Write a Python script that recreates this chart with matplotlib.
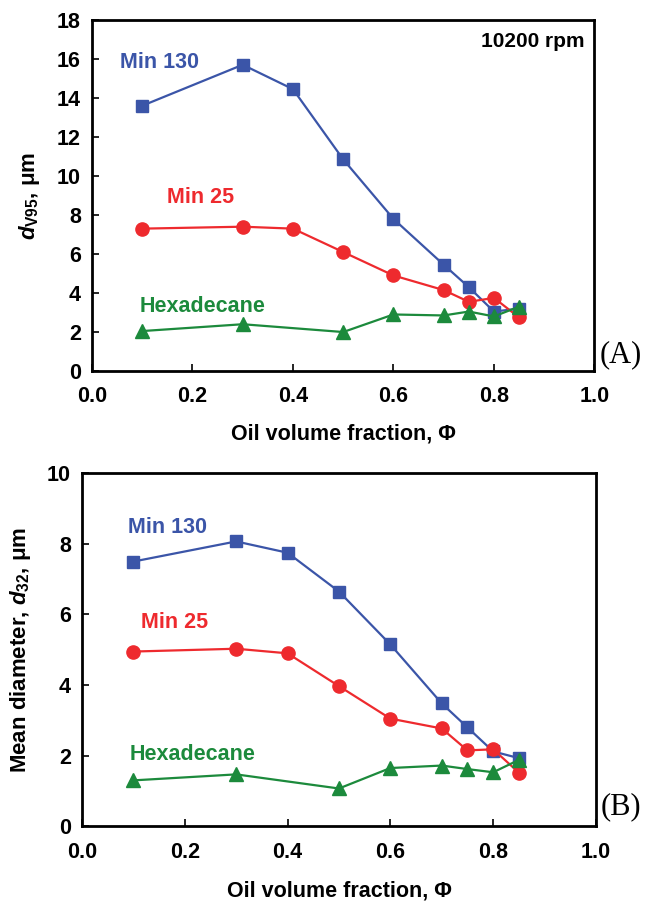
import matplotlib
matplotlib.use('Agg')
import matplotlib.pyplot as plt
import numpy as np

plt.rcParams['font.family'] = ['Liberation Sans', 'DejaVu Sans']
plt.rcParams['font.weight'] = 'bold'
plt.rcParams['axes.labelweight'] = 'bold'
plt.rcParams['mathtext.fontset'] = 'custom'
plt.rcParams['mathtext.rm'] = 'Liberation Sans:bold'
plt.rcParams['mathtext.it'] = 'Liberation Sans:bold:italic'
plt.rcParams['mathtext.bf'] = 'Liberation Sans:bold'

# data
phi = [0.1, 0.3, 0.4, 0.5, 0.6, 0.7, 0.75, 0.8, 0.85]
phi_hex = [0.1, 0.3, 0.5, 0.6, 0.7, 0.75, 0.8, 0.85]

dv95_min130 = [13.6, 15.7, 14.45, 10.85, 7.8, 5.45, 4.3, 3.05, 3.2]
dv95_min25 = [7.3, 7.4, 7.3, 6.1, 4.9, 4.15, 3.55, 3.75, 2.75]
dv95_hex = [2.05, 2.4, 2.0, 2.9, 2.85, 3.05, 2.8, 3.3]

d32_min130 = [7.5, 8.07, 7.75, 6.65, 5.15, 3.48, 2.8, 2.12, 1.93]
d32_min25 = [4.95, 5.03, 4.9, 3.97, 3.05, 2.77, 2.15, 2.18, 1.52]
d32_hex = [1.3, 1.47, 1.07, 1.65, 1.72, 1.62, 1.53, 1.88]

xticks = [0.0, 0.2, 0.4, 0.6, 0.8, 1.0]

col = {'b': '#3b55a8', 'r': '#ee2a2e', 'g': '#1c8a3c'}

fig = plt.figure(figsize=(6.45, 9.05), dpi=100)
axA = fig.add_axes([0.1426, 0.590, 0.779, 0.388])
axB = fig.add_axes([0.127, 0.087, 0.797, 0.390])


def style(ax, ymax, ystep, xpad):
	ax.set_xlim(0, 1.0)
	ax.set_ylim(0, ymax)
	ax.set_xticks(xticks)
	ax.set_xticklabels(['%.1f' % t for t in xticks])
	ax.set_yticks(np.arange(0, ymax + 0.1, ystep))
	ax.tick_params(direction='in', length=5, width=1.2, labelsize=15.5)
	ax.tick_params(axis='x', pad=11)
	ax.tick_params(axis='y', pad=8)
	for s in ax.spines.values():
		s.set_linewidth(2.0)
	ax.set_xlabel('Oil volume fraction, \u03a6', fontsize=15.5, labelpad=xpad)


def series(ax, x130, y130, x25, y25, xh, yh):
	ax.plot(x130, y130, color=col['b'], marker='s', ms=8.5, lw=1.6, clip_on=False)
	ax.plot(x25, y25, color=col['r'], marker='o', ms=9.5, lw=1.6, clip_on=False)
	ax.plot(xh, yh, color=col['g'], marker='^', ms=9.5, lw=1.6, clip_on=False)


# (A) d_V95
series(axA, phi, dv95_min130, phi, dv95_min25, phi_hex, dv95_hex)
style(axA, 18, 2, 12)
axA.set_ylabel(r'$d_{\mathrm{V95}}$, ' + '\u03bcm', fontsize=16, labelpad=11)
axA.text(0.055, 15.8, 'Min 130', color=col['b'], fontsize=15.5, va='center')
axA.text(0.149, 8.9, 'Min 25', color=col['r'], fontsize=15.5, va='center')
axA.text(0.095, 3.3, 'Hexadecane', color=col['g'], fontsize=15.5, va='center')
axA.text(0.98, 16.6, '10200 rpm', ha='right', fontsize=15)
axA.text(1.01, 0.85, '(A)', transform=axA.get_yaxis_transform(), ha='left',
		va='center', fontsize=22, family='Liberation Serif', weight='normal')

# (B) d_32
series(axB, phi, d32_min130, phi, d32_min25, phi_hex, d32_hex)
style(axB, 10, 2, 13)
axB.set_ylabel(r'Mean diameter, $d_{32}$, ' + '\u03bcm', fontsize=16, labelpad=10)
axB.text(0.089, 8.47, 'Min 130', color=col['b'], fontsize=15.5, va='center')
axB.text(0.114, 5.77, 'Min 25', color=col['r'], fontsize=15.5, va='center')
axB.text(0.093, 2.04, 'Hexadecane', color=col['g'], fontsize=15.5, va='center')
axB.text(1.01, 0.55, '(B)', transform=axB.get_yaxis_transform(), ha='left',
		va='center', fontsize=22, family='Liberation Serif', weight='normal')

fig.savefig('out.png', dpi=100)
